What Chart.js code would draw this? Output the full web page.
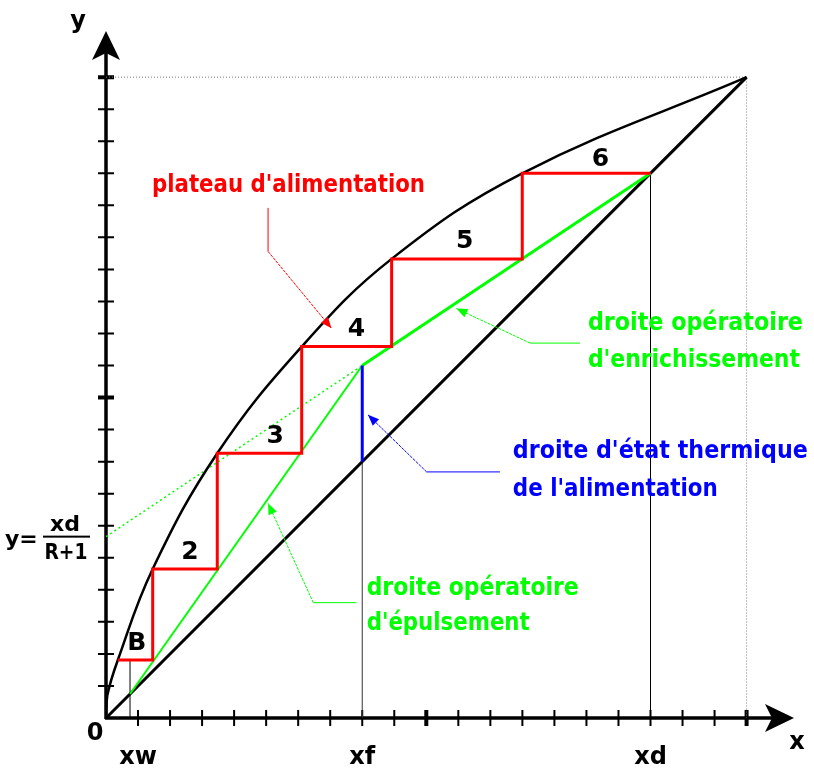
<!DOCTYPE html>
<html>
<head>
<meta charset="utf-8">
<script src="https://cdn.jsdelivr.net/npm/chart.js@4.4.1/dist/chart.umd.min.js"></script>
<style>
  html, body { margin: 0; padding: 0; background: #fff; }
</style>
</head>
<body>
<canvas id="myChart" width="814" height="773"></canvas>
<script>
// equilibrium curve
var eqX = [0, 0.002, 0.0185, 0.0729, 0.1737, 0.3055, 0.4459, 0.6498, 1];
var eqY = [0, 0.035, 0.0905, 0.2326, 0.4131, 0.5795, 0.7164, 0.85, 1];

var xw = 0.0375, xf = 0.4, xd = 0.85;
var intercept = 0.283;   // xd/(R+1)
var qTop = 0.55;         // feed line meets the operating lines

// steps, from xd down to the reboiler B
var stairX = [0.85, 0.6498, 0.6498, 0.4459, 0.4459, 0.3055, 0.3055, 0.1737, 0.1737, 0.0729, 0.0729, 0.0185];
var stairY = [0.85, 0.85, 0.7164, 0.7164, 0.5795, 0.5795, 0.4131, 0.4131, 0.2326, 0.2326, 0.0905, 0.0905];
var plateB = 0.0905;

var stageLabels = ['B', '2', '3', '4', '5', '6'];
var stageX = [0.048, 0.131, 0.264, 0.391, 0.560, 0.772];
var stageY = [0.117, 0.258, 0.439, 0.606, 0.744, 0.872];

var axisTicks = [0.05, 0.1, 0.15, 0.2, 0.25, 0.3, 0.35, 0.4, 0.45, 0.5, 0.55, 0.6, 0.65, 0.7, 0.75, 0.8, 0.85, 0.9, 0.95, 1];
var majorTicks = [0.5, 1];
var xTickLabels = ['xw', 'xf', 'xd'];
var xTickLabelPos = [xw, xf, xd];

// annotation texts (left, baseline in data units)
var noteText = ["plateau d'alimentation", "droite opératoire", "d'enrichissement", "droite d'état thermique", "de l'alimentation", "droite opératoire", "d'épulsement"];
var noteX = [0.0718, 0.7523, 0.7523, 0.635, 0.635, 0.4069, 0.4069];
var noteY = [0.821, 0.6056, 0.5484, 0.4053, 0.3465, 0.192, 0.1373];

// leader arrows: [start, elbow, tip]
var arrowX = [[0.253, 0.253, 0.352], [0.740, 0.662, 0.547], [0.615, 0.5005, 0.409], [0.391, 0.3236, 0.253]];
var arrowY = [[0.796, 0.728, 0.608], [0.585, 0.585, 0.639], [0.384, 0.384, 0.473], [0.180, 0.180, 0.335]];

var RED = '#ff0000', GREEN = '#00ff00', BLUE = '#0000ff';
var noteColor = [RED, GREEN, GREEN, BLUE, BLUE, GREEN, GREEN];
var noteWidth = [273, 215, 212, 295, 205, 212, 163];
var arrowColor = [RED, GREEN, BLUE, GREEN];

function pts(xs, ys) {
    return xs.map(function (x, i) { return { x: x, y: ys[i] }; });
}

function line(data, color, width, extra) {
    var ds = {
        data: data,
        borderColor: color,
        borderWidth: width,
        pointRadius: 0,
        fill: false,
        tension: 0
    };
    for (var k in extra) ds[k] = extra[k];
    return ds;
}

var datasets = [
    line(pts([0, 1, 1], [1, 1, 0]), '#777', 1, { borderDash: [1, 2], order: 9 }),
    line(pts([xw, xw], [0, plateB]), '#000', 1, { order: 8 }),
    line(pts([xf, xf], [0, xf]), '#333', 1, { order: 8 }),
    line(pts([xd, xd], [0, xd]), '#000', 1, { order: 8 }),
    line(pts([0, 1], [0, 1]), '#000', 3, { order: 5 }),
    line(pts(eqX, eqY), '#000', 2.5, { tension: 0.4, order: 4 }),
    line(pts([0, xf], [intercept, qTop]), GREEN, 1.5, { borderDash: [2, 3], order: 6 }),
    line(pts([xw, xf], [xw, qTop]), GREEN, 2, { order: 3 }),
    line(pts([xf, xd], [qTop, xd]), GREEN, 3, { order: 3 }),
    line(pts([xf, xf], [xf, qTop]), BLUE, 3, { order: 2 }),
    line(pts(stairX, stairY), RED, 3, { order: 1 })
];

function fitText(ctx, text, x, y, w) {
    var nat = ctx.measureText(text).width;
    ctx.save();
    ctx.translate(x, y);
    ctx.scale(w / nat, 1);
    ctx.fillText(text, 0, 0);
    ctx.restore();
}

function head(ctx, x0, y0, x1, y1, len, half) {
    var a = Math.atan2(y1 - y0, x1 - x0);
    ctx.beginPath();
    ctx.moveTo(x1, y1);
    ctx.lineTo(x1 - len * Math.cos(a) + half * Math.sin(a), y1 - len * Math.sin(a) - half * Math.cos(a));
    ctx.lineTo(x1 - len * Math.cos(a) - half * Math.sin(a), y1 - len * Math.sin(a) + half * Math.cos(a));
    ctx.closePath();
    ctx.fill();
}

var diagramPlugin = {
    id: 'diagram',
    beforeDatasetsDraw: function (chart) {
        var ctx = chart.ctx, xs = chart.scales.x, ys = chart.scales.y, ca = chart.chartArea;
        var X0 = xs.getPixelForValue(0), Y0 = ys.getPixelForValue(0);
        ctx.save();
        ctx.strokeStyle = '#000';
        ctx.fillStyle = '#000';
        // axes
        ctx.lineWidth = 3.5;
        ctx.beginPath();
        ctx.moveTo(X0, Y0 + 1);
        ctx.lineTo(X0, ca.top + 20);
        ctx.moveTo(X0 - 1, Y0);
        ctx.lineTo(ca.right - 20, Y0);
        ctx.stroke();
        // arrow heads
        ctx.beginPath();
        ctx.moveTo(X0, ca.top);
        ctx.lineTo(X0 - 14, ca.top + 29);
        ctx.lineTo(X0, ca.top + 22);
        ctx.lineTo(X0 + 14, ca.top + 29);
        ctx.closePath();
        ctx.fill();
        ctx.beginPath();
        ctx.moveTo(ca.right, Y0);
        ctx.lineTo(ca.right - 29, Y0 - 14);
        ctx.lineTo(ca.right - 22, Y0);
        ctx.lineTo(ca.right - 29, Y0 + 14);
        ctx.closePath();
        ctx.fill();
        // ticks
        axisTicks.forEach(function (t) {
            ctx.lineWidth = majorTicks.indexOf(t) >= 0 ? 4 : 2;
            var px = xs.getPixelForValue(t), py = ys.getPixelForValue(t);
            ctx.beginPath();
            ctx.moveTo(px, Y0 - 8);
            ctx.lineTo(px, Y0 + 8);
            ctx.moveTo(X0 - 8, py);
            ctx.lineTo(X0 + 8, py);
            ctx.stroke();
        });
        ctx.restore();
    },
    afterDatasetsDraw: function (chart) {
        var ctx = chart.ctx, xs = chart.scales.x, ys = chart.scales.y, ca = chart.chartArea;
        var X0 = xs.getPixelForValue(0), Y0 = ys.getPixelForValue(0);
        ctx.save();

        // leader arrows
        arrowX.forEach(function (ax, i) {
            var p = ax.map(function (v, j) { return [xs.getPixelForValue(v), ys.getPixelForValue(arrowY[i][j])]; });
            ctx.strokeStyle = arrowColor[i];
            ctx.fillStyle = arrowColor[i];
            ctx.lineWidth = 1;
            ctx.beginPath();
            ctx.moveTo(p[0][0], p[0][1]);
            ctx.lineTo(p[1][0], p[1][1]);
            ctx.stroke();
            ctx.setLineDash([3, 1]);
            ctx.beginPath();
            ctx.moveTo(p[1][0], p[1][1]);
            ctx.lineTo(p[2][0], p[2][1]);
            ctx.stroke();
            ctx.setLineDash([]);
            head(ctx, p[1][0], p[1][1], p[2][0], p[2][1], 11, 4.5);
        });

        // annotation texts
        ctx.font = 'bold 24px "DejaVu Sans"';
        ctx.textAlign = 'left';
        ctx.textBaseline = 'alphabetic';
        noteText.forEach(function (t, i) {
            ctx.fillStyle = noteColor[i];
            fitText(ctx, t, xs.getPixelForValue(noteX[i]), ys.getPixelForValue(noteY[i]), noteWidth[i]);
        });

        // stage numbers
        ctx.fillStyle = '#000';
        ctx.font = 'bold 25px "DejaVu Sans"';
        ctx.textAlign = 'center';
        ctx.textBaseline = 'middle';
        stageLabels.forEach(function (s, i) {
            ctx.fillText(s, xs.getPixelForValue(stageX[i]), ys.getPixelForValue(stageY[i]));
        });

        // axis labels
        ctx.font = 'bold 24px "DejaVu Sans"';
        ctx.fillText('0', X0 - 11, Y0 + 16);
        xTickLabels.forEach(function (s, i) {
            ctx.fillText(s, xs.getPixelForValue(xTickLabelPos[i]) + (i === 0 ? 8 : 0), Y0 + 40);
        });
        ctx.fillText('x', ca.right + 3, Y0 + 25);
        ctx.fillText('y', X0 - 28, 22);

        // y = xd/(R+1) at the intercept
        var yi = ys.getPixelForValue(intercept);
        ctx.font = 'bold 22px "DejaVu Sans"';
        ctx.textBaseline = 'alphabetic';
        ctx.textAlign = 'left';
        ctx.fillText('y=', 5, yi + 9);
        ctx.textAlign = 'center';
        ctx.textBaseline = 'middle';
        ctx.fillText('xd', 65, yi - 11);
        ctx.save();
        ctx.translate(66, yi + 17);
        ctx.scale(0.85, 1);
        ctx.fillText('R+1', 0, 0);
        ctx.restore();
        ctx.fillRect(43, yi - 1, 47, 2);
        ctx.restore();
    }
};

var chart = new Chart(document.getElementById('myChart').getContext('2d'), {
    type: 'line',
    data: { datasets: datasets },
    options: {
        responsive: false,
        animation: false,
        layout: { padding: { left: 106, right: 20, top: 31, bottom: 55 } },
        plugins: { legend: { display: false }, tooltip: { enabled: false } },
        scales: {
            x: { type: 'linear', min: 0, max: 1.074, display: false },
            y: { type: 'linear', min: 0, max: 1.072, display: false }
        }
    },
    plugins: [diagramPlugin]
});
</script>
</body>
</html>
